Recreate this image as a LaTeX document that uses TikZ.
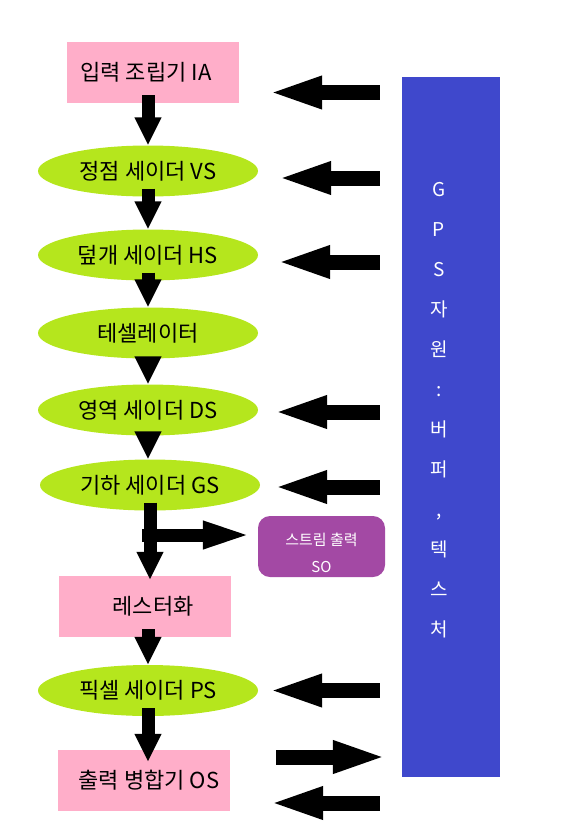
\documentclass[tikz,border=0pt]{standalone}
\usepackage{fontspec}
\setmainfont{Noto Sans CJK KR}
\usetikzlibrary{shapes.geometric,arrows.meta}
\definecolor{stagepink}{RGB}{255,174,201}
\definecolor{stagelime}{RGB}{181,230,29}
\definecolor{gpsblue}{RGB}{63,72,204}
\definecolor{sopurple}{RGB}{163,73,164}
\tikzset{
  fixedbox/.style={fill=stagepink, minimum width=172pt, minimum height=61pt, inner sep=0pt,
    font=\fontsize{22pt}{24pt}\selectfont},
  shaderbox/.style={ellipse, fill=stagelime, minimum width=220pt, minimum height=51pt, inner sep=0pt,
    font=\fontsize{22pt}{24pt}\selectfont},
  outbox/.style={rounded corners=12pt, fill=sopurple, text=white, align=center, inner sep=0pt,
    minimum width=127pt, minimum height=61pt, font=\fontsize{15pt}{27pt}\selectfont},
  gpstext/.style={text=white, align=center, inner sep=0pt, font=\fontsize{19pt}{40pt}\selectfont},
  bigarrow/.style={line width=13pt, shorten <=-8pt, -{Triangle[length=28pt,width=25pt]}},
  sidearrow/.style={line width=15pt, -{Triangle[length=55pt,width=29pt]}}
}
\begin{document}
\begin{tikzpicture}[x=1pt,y=1pt]
\useasboundingbox (0,0) rectangle (587,-830);
\node[fixedbox] (ia) at (153,-72.5) {입력 조립기 IA\hspace*{14pt}};
\node[shaderbox] (vs) at (148,-171) {정점 세이더 VS};
\node[shaderbox] (hs) at (148,-255) {덮개 세이더 HS};
\node[shaderbox] (te) at (148,-333) {테셀레이터};
\node[shaderbox] (ds) at (148,-410) {영역 세이더 DS};
\node[shaderbox] (gs) at (150,-485) {기하 세이더 GS};
\node[outbox] (so) at (321.5,-546.5) {\rule{0pt}{26pt}스트림 출력\\SO};
\node[fixedbox] (rs) at (145,-606.5) {\hspace*{16pt}레스터화};
\node[shaderbox] (ps) at (148,-690.5) {픽셀 세이더 PS};
\node[fixedbox] (om) at (144,-780.5) {\hspace*{10pt}출력 병합기 OS};
\node[fill=gpsblue, minimum width=98pt, minimum height=700pt, inner sep=0pt] (gps) at (451,-427) {};
\node[gpstext] (gpslabel) at (439,-410) {G\\P\\S\\자\\원\\:\\버\\퍼\\,\\텍\\스\\처};
\coordinate (fork) at (150,-535);
\draw[bigarrow] (vs.north |- ia.south) -- (vs.north);
\draw[bigarrow] (vs.south) -- (hs.north);
\draw[bigarrow] (hs.south) -- (te.north);
\draw[bigarrow] (te.south) -- (ds.north);
\draw[bigarrow] (ds.south) -- (ds.south |- gs.north);
\draw[bigarrow] (gs.south) -- ([yshift=-4pt]gs.south |- rs.north);
\draw[bigarrow, -{Triangle[length=52pt,width=24pt]}] (fork) -- ([xshift=-3pt]so.west |- fork);
\draw[bigarrow] (ps.north |- rs.south) -- (ps.north);
\draw[bigarrow] (ps.south) -- ([yshift=-12pt]ps.south |- om.north);
\draw[sidearrow] ([xshift=-22pt,yshift=-20pt]gps.west |- ia.east) -- ([xshift=28pt,yshift=-20pt]ia.east);
\draw[sidearrow] ([xshift=-22pt,yshift=-7pt]gps.west |- vs.east) -- ([xshift=18pt,yshift=-7pt]vs.east);
\draw[sidearrow] ([xshift=-22pt,yshift=-7pt]gps.west |- hs.east) -- ([xshift=17pt,yshift=-7pt]hs.east);
\draw[sidearrow] ([xshift=-22pt,yshift=-2pt]gps.west |- ds.east) -- ([xshift=14pt,yshift=-2pt]ds.east);
\draw[sidearrow] ([xshift=-22pt,yshift=-2pt]gps.west |- gs.east) -- ([xshift=12pt,yshift=-2pt]gs.east);
\draw[sidearrow] ([xshift=-22pt]gps.west |- ps.east) -- ([xshift=9pt]ps.east);
\draw[sidearrow] ([xshift=46pt,yshift=23.5pt]om.east) -- ([xshift=-14pt,yshift=23.5pt]gps.west |- om.east);
\draw[sidearrow] ([xshift=-22pt,yshift=-22.5pt]gps.west |- om.east) -- ([xshift=38pt,yshift=-22.5pt]om.east);
\end{tikzpicture}
\end{document}
